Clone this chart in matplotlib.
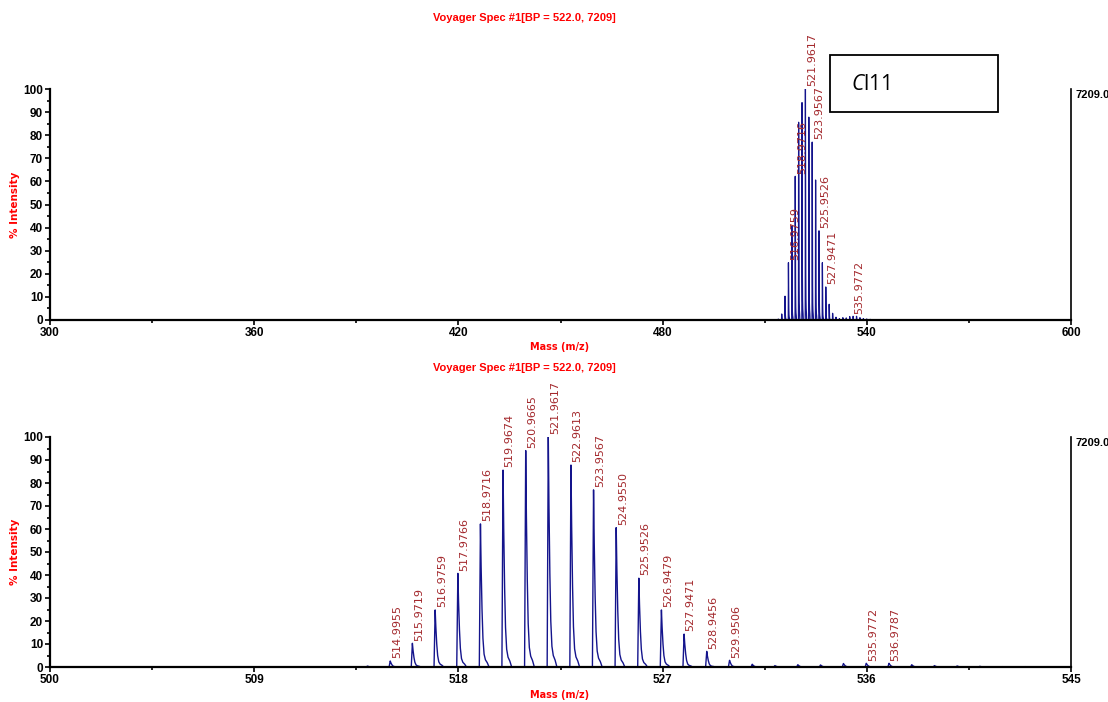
import numpy as np
import matplotlib
matplotlib.use("Agg")
import matplotlib.pyplot as plt
from matplotlib.patches import Rectangle
from matplotlib.ticker import FixedLocator, MultipleLocator

# Centroided isotope cluster: m/z and relative intensity (%)
labeled_mz = [514.9955, 515.9719, 516.9759, 517.9766, 518.9716, 519.9674,
              520.9665, 521.9617, 522.9613, 523.9567, 524.9550, 525.9526,
              526.9479, 527.9471, 528.9456, 529.9506, 535.9772, 536.9787]
labeled_int = [2.6, 10.3, 24.8, 40.7, 62.2, 85.6,
               94.1, 100.0, 87.8, 77.0, 60.6, 38.6,
               24.8, 14.3, 6.8, 2.9, 1.6, 1.6]
# unlabeled small peaks
minor_mz = [513.99, 530.95, 531.95, 532.96, 533.96, 534.97,
            537.98, 538.98, 539.98, 540.98, 541.98, 542.98, 543.98]
minor_int = [0.4, 1.2, 0.6, 1.0, 0.9, 1.5,
             1.0, 0.6, 0.45, 0.3, 0.15, 0.15, 0.1]
# peaks annotated in the full-range view
overview_labels = [516.9759, 518.9716, 521.9617, 523.9567,
                   525.9526, 527.9471, 535.9772]

# axis ticks of the two views
full_ticks = [300, 360, 420, 480, 540, 600]
full_minor = [330, 390, 450, 510, 570]
zoom_ticks = [500, 509, 518, 527, 536, 545]
zoom_minor = [504.5, 513.5, 522.5, 531.5, 540.5]

title_text = "Voyager Spec #1[BP = 522.0, 7209]"
base_peak = "7209.0"
species = "Cl11"

TRACE = "#14148c"
LABEL_RED = "#a3282c"
RED = "#ff0000"
TICK_FONT = ["Liberation Sans Narrow", "Liberation Sans", "DejaVu Sans"]

# profile of a single peak: steep leading edge, tailing trailing edge
shape_dx = np.array([-0.05, 0.0, 0.03, 0.07, 0.11, 0.16, 0.22, 0.30, 0.38])
shape_fr = np.array([0.0, 1.0, 0.70, 0.40, 0.20, 0.09, 0.05, 0.03, 0.0])


def build_trace(mz, inten, start, stop):
    order = np.argsort(mz)
    xs, ys = [start], [0.0]
    for i in order:
        xs.extend(mz[i] + shape_dx)
        ys.extend(inten[i] * shape_fr)
    xs.append(stop)
    ys.append(0.0)
    return np.array(xs), np.array(ys)


all_mz = np.array(labeled_mz + minor_mz)
all_int = np.array(labeled_int + minor_int)
trace_x, trace_y = build_trace(all_mz, all_int, 512.6, 544.6)

plt.rcParams["mathtext.fontset"] = "custom"
plt.rcParams["mathtext.it"] = "Open Sans:italic"
plt.rcParams["mathtext.rm"] = "Open Sans"

W, H = 1108, 702
fig = plt.figure(figsize=(W / 100, H / 100), dpi=100)


def fx(px):
    return px / W


def fy(py):
    return 1 - py / H


def style_axes(ax, ticks, minor):
    ax.set_xlim(ticks[0], ticks[-1])
    ax.set_ylim(0, 100)
    ax.xaxis.set_major_locator(FixedLocator(ticks))
    ax.xaxis.set_minor_locator(FixedLocator(minor))
    ax.set_xticklabels([str(t) for t in ticks])
    ax.yaxis.set_major_locator(MultipleLocator(10))
    ax.yaxis.set_minor_locator(MultipleLocator(5))
    ax.spines["top"].set_visible(False)
    for s in ("left", "bottom"):
        ax.spines[s].set_linewidth(1.6)
    ax.spines["right"].set_linewidth(1.2)
    ax.tick_params(which="major", direction="out", length=3.5, width=1.2,
                   pad=1.5, right=False)
    ax.tick_params(which="minor", direction="out", length=2.5, width=1.2,
                   right=False)
    for lab in ax.get_xticklabels() + ax.get_yticklabels():
        lab.set_family(TICK_FONT)
        lab.set_fontweight("bold")
        lab.set_fontsize(8.5)
    ax.annotate(base_peak, xy=(1, 1), xycoords="axes fraction",
                xytext=(3.5, -4.5), textcoords="offset points",
                ha="left", va="center", fontsize=8, fontweight="bold",
                family=TICK_FONT)


def add_labels(ax, values):
    lookup = dict(zip(labeled_mz, labeled_int))
    for m in values:
        ax.annotate(f"{m:.4f}", xy=(m, lookup[m]), xytext=(4.7, 2),
                    textcoords="offset points", rotation=90,
                    ha="center", va="bottom", fontsize=8, color=LABEL_RED,
                    annotation_clip=False, zorder=3)


# full-range view
ax1 = fig.add_axes([fx(50), fy(320), fx(1071) - fx(50), fy(89) - fy(320)])
ax1.plot(trace_x, trace_y, color=TRACE, lw=0.9, zorder=2)
style_axes(ax1, full_ticks, full_minor)
add_labels(ax1, overview_labels)

# zoom on the isotope cluster
ax2 = fig.add_axes([fx(50), fy(667), fx(1071) - fx(50), fy(437) - fy(667)])
ax2.plot(trace_x, trace_y, color=TRACE, lw=1.0, zorder=2)
style_axes(ax2, zoom_ticks, zoom_minor)
add_labels(ax2, labeled_mz)

# titles and axis names
for ty in (18, 368):
    fig.text(fx(524), fy(ty), title_text, ha="center", va="center",
             color=RED, fontsize=8, fontweight="bold", family=TICK_FONT,
             zorder=5)
for ly in (347, 695):
    fig.text(fx(560), fy(ly), "Mass (m/z)", ha="center", va="center",
             color=RED, fontsize=7, fontweight="bold")
for cy in (204.5, 552):
    fig.text(fx(15), fy(cy), "% Intensity", ha="center", va="center",
             rotation=90, color=RED, fontsize=7.5, fontweight="bold")

# species box
fig.patches.append(Rectangle((fx(830), fy(111.5)), fx(998) - fx(830),
                             fy(55) - fy(111.5), transform=fig.transFigure,
                             fill=False, lw=1.3, ec="black"))
fig.text(fx(851), fy(84), r"$\mathit{C}$l11", ha="left", va="center",
         fontsize=15, family="Open Sans")

fig.savefig("out.png", dpi=100)
